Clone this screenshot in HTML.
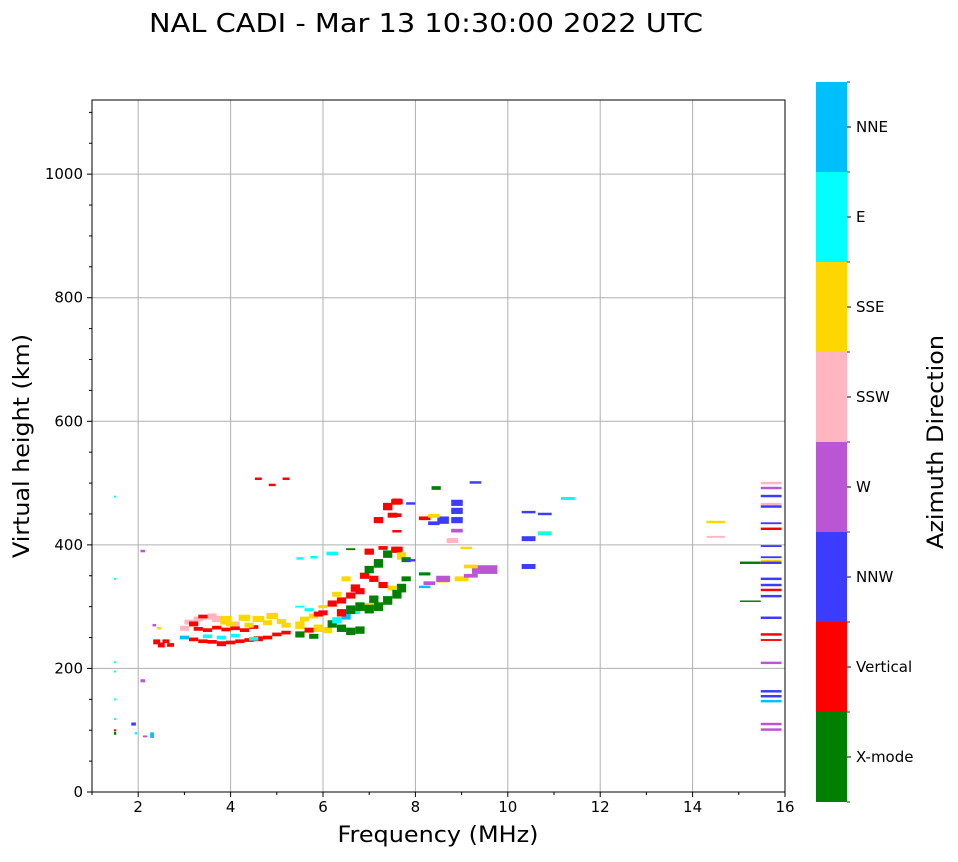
<!DOCTYPE html>
<html><head><meta charset="utf-8"><style>
body{margin:0;background:#fff;}
svg text{font-family:"DejaVu Sans","Liberation Sans",sans-serif;}
</style></head><body>
<svg id="chart" width="958" height="857" xmlns="http://www.w3.org/2000/svg">
<text x="426" y="32" font-size="26" text-anchor="middle" textLength="554" lengthAdjust="spacingAndGlyphs">NAL CADI - Mar 13 10:30:00 2022 UTC</text>
<g id="grid"></g>
<g id="marks"></g>
<rect x="92" y="100" width="693" height="692" fill="none" stroke="#000" stroke-width="1"/>
<g id="axes"></g>
<text x="438" y="842" font-size="22" text-anchor="middle" textLength="201" lengthAdjust="spacingAndGlyphs">Frequency (MHz)</text>
<text transform="translate(29,446) rotate(-90)" font-size="22" text-anchor="middle" textLength="224" lengthAdjust="spacingAndGlyphs">Virtual height (km)</text>
<g id="cbar"></g>
<text transform="translate(943,442) rotate(-90)" font-size="22" text-anchor="middle" textLength="214" lengthAdjust="spacingAndGlyphs">Azimuth Direction</text>
</svg>
<script>
const NS="http://www.w3.org/2000/svg";
const directions=["X-mode","Vertical","NNW","W","SSW","SSE","E","NNE"];
const dirColors=["#008000","#ff0000","#3c3cff","#ba55d3","#ffb6c1","#ffd700","#00ffff","#00bfff"];
const xTicks=[2,4,6,8,10,12,14,16];
const yTicks=[0,200,400,600,800,1000];
// echo data: frequency (MHz), virtual height (km), direction index, freq width (MHz), height thickness (km)
const echoFreq=[1.5,1.5,1.5,1.5,1.5,1.5,1.5,1.5,1.9,1.95,2.1,2.1,2.3,2.15,2.35,2.4,2.5,2.6,2.7,2.45,
3.0,3.2,3.4,3.6,3.8,4.0,4.2,4.4,4.6,4.8,5.0,5.2,3.3,3.5,3.7,3.9,4.1,4.3,4.5,3.1,3.3,3.5,3.7,3.9,4.1,3.6,3.9,4.3,4.6,4.9,5.2,4.0,4.4,4.8,5.1,3.5,3.8,4.1,4.5,3.2,3.4,3.0,
5.5,5.7,5.9,5.6,5.8,6.0,5.5,5.8,6.1,5.7,6.0,5.5,5.9,6.2,6.4,6.6,6.8,6.2,6.4,6.6,6.8,7.0,6.3,6.5,6.7,6.4,6.6,6.8,7.0,6.5,6.9,6.3,6.7,7.1,
7.0,7.2,7.4,7.6,7.1,7.3,7.5,7.2,7.4,7.6,7.7,7.8,7.0,7.2,7.4,7.6,7.5,7.3,7.7,7.8,7.9,
8.2,8.4,8.6,8.4,8.3,8.2,8.45,8.2,8.6,8.9,8.9,8.9,8.9,8.6,8.8,9.1,9.5,9.0,9.2,9.2,9.3,
10.45,10.45,10.45,10.8,10.8,10.8,11.3,14.5,14.5,15.25,15.25,
4.6,4.9,5.2,5.5,5.8,6.2,6.6,7.0,7.2,7.4,7.6,7.6,7.6,7.9,7.6,7.7,
15.7,15.7,15.7,15.7,15.7,15.7,15.7,15.7,15.7,15.7,15.7,15.7,15.7,15.7,15.7,15.7,15.7,15.7,15.7,15.7,15.7,15.7,15.7,15.7];
const echoHeight=[478,345,210,195,150,118,95,100,110,95,390,180,92,90,270,243,238,244,238,265,
250,247,244,243,240,242,244,246,248,250,255,258,264,262,266,263,265,262,267,275,280,283,280,276,272,285,278,282,280,285,270,272,270,274,276,252,250,253,248,272,284,265,
270,262,265,280,285,290,255,252,262,295,300,300,288,272,265,260,262,305,310,318,325,300,278,285,293,290,295,300,296,345,350,320,330,312,
360,370,385,392,345,335,330,300,310,320,330,345,388,440,462,470,448,395,380,376,375,
443,435,440,447,338,332,492,353,343,440,455,468,423,345,407,395,360,345,350,365,501,
410,365,453,420,418,450,475,437,413,371,309,
507,497,507,378,380,386,393,390,440,462,470,448,422,467,393,385,
500,492,479,466,462,435,426,398,380,374,371,345,335,327,317,282,255,246,209,163,155,147,110,101];
const echoDir=[6,6,6,6,6,6,0,1,2,6,3,3,7,3,3,1,1,1,1,5,
7,1,1,1,1,1,1,1,1,1,1,1,1,1,1,1,1,1,1,4,4,4,4,4,4,4,5,5,5,5,5,5,5,5,5,6,6,6,6,1,1,4,
5,1,5,5,5,1,0,0,5,6,5,6,1,0,0,0,0,1,1,1,1,5,6,7,6,1,0,0,0,5,1,5,1,0,
0,0,0,1,1,1,5,0,0,0,0,0,1,1,1,1,1,1,5,0,2,
1,2,2,5,3,7,0,0,5,2,2,2,3,3,4,5,3,5,3,5,2,
2,2,2,5,6,2,6,5,4,0,0,
1,1,1,6,6,6,0,1,1,1,1,1,1,2,1,5,
4,3,2,4,2,2,1,2,2,5,2,2,2,1,2,2,1,1,3,2,2,7,3,3];
const echoWidth=[0.05,0.05,0.05,0.05,0.05,0.05,0.05,0.05,0.1,0.05,0.1,0.1,0.08,0.1,0.08,0.15,0.15,0.15,0.15,0.1,
0.2,0.2,0.2,0.2,0.2,0.2,0.2,0.2,0.2,0.2,0.2,0.2,0.2,0.2,0.2,0.2,0.2,0.2,0.2,0.2,0.2,0.2,0.2,0.2,0.2,0.2,0.25,0.25,0.25,0.25,0.2,0.2,0.2,0.2,0.2,0.2,0.2,0.2,0.2,0.2,0.2,0.2,
0.2,0.2,0.2,0.2,0.2,0.2,0.2,0.2,0.2,0.2,0.2,0.2,0.2,0.2,0.2,0.2,0.2,0.2,0.2,0.2,0.2,0.2,0.2,0.2,0.2,0.2,0.2,0.2,0.2,0.2,0.2,0.2,0.2,0.2,
0.2,0.2,0.2,0.2,0.2,0.2,0.2,0.2,0.2,0.2,0.2,0.2,0.2,0.2,0.2,0.2,0.2,0.2,0.2,0.2,0.2,
0.25,0.25,0.25,0.25,0.25,0.25,0.2,0.25,0.25,0.25,0.25,0.25,0.25,0.3,0.25,0.25,0.55,0.3,0.3,0.3,0.25,
0.3,0.3,0.3,0.3,0.3,0.3,0.3,0.4,0.4,0.45,0.45,
0.15,0.15,0.15,0.15,0.15,0.25,0.2,0.2,0.2,0.2,0.25,0.2,0.2,0.2,0.25,0.2,
0.45,0.45,0.45,0.45,0.45,0.45,0.45,0.45,0.45,0.45,0.45,0.45,0.45,0.45,0.45,0.45,0.45,0.45,0.45,0.45,0.45,0.45,0.45,0.45];
const echoThick=[3,3,3,3,3,3,5,3,5,4,4,5,9,3,4,8,8,6,6,4,
6,6,6,6,8,6,6,6,8,6,6,6,6,6,6,6,6,6,6,8,8,8,10,8,8,8,14,10,10,10,8,8,8,8,8,6,6,6,6,8,6,8,
12,8,12,8,8,8,10,8,10,5,5,3,8,12,12,12,12,10,10,10,10,12,10,12,10,12,14,14,14,8,10,8,12,12,
12,14,12,10,10,10,8,14,14,14,14,8,8,10,12,10,8,6,8,8,4,
6,6,12,6,6,4,6,5,8,10,10,10,6,10,8,4,14,8,6,6,4,
8,8,4,5,5,4,5,4,3,4,2,
4,4,4,4,4,6,3,8,8,10,8,6,4,4,8,6,
4,4,4,4,4,3,4,3,3,4,4,4,4,4,4,4,4,3,4,4,4,4,4,4];

const X0=92,X1=785,Y0=792,Y1=100;
const xScale=f=>X0+(f-1)*(X1-X0)/15;
const yScale=h=>Y0-h*(Y0-Y1)/1120;
function el(tag,attrs,parent){const e=document.createElementNS(NS,tag);for(const k in attrs)e.setAttribute(k,attrs[k]);parent.appendChild(e);return e;}
const grid=document.getElementById('grid'),axes=document.getElementById('axes'),marks=document.getElementById('marks'),cbar=document.getElementById('cbar');
xTicks.forEach(t=>{const x=xScale(t);
 const g=el('line',{x1:x,x2:x,y1:Y1,y2:Y0,stroke:'#b0b0b0','stroke-width':1},grid);
 
 
 el('line',{x1:x,x2:x,y1:Y0,y2:Y0+5,stroke:'#000'},axes);
 const tx=el('text',{x:x,y:Y0+20,'font-size':15,'text-anchor':'middle'},axes);tx.textContent=t;
 
 
});
for(let f=1;f<=16;f+=1){if(f%2===1){const x=xScale(f);el('line',{x1:x,x2:x,y1:Y0,y2:Y0+3,stroke:'#000'},axes);}}
yTicks.forEach(t=>{const y=yScale(t);
 if(t>0){const g=el('line',{x1:X0,x2:X1,y1:y,y2:y,stroke:'#b0b0b0','stroke-width':1},grid);
 
 }
 el('line',{x1:X0-5,x2:X0,y1:y,y2:y,stroke:'#000'},axes);
 const tx=el('text',{x:X0-9,y:y+5,'font-size':15,'text-anchor':'end'},axes);tx.textContent=t;
 
 
});
for(let h=50;h<1120;h+=50){if(h%200!==0){const y=yScale(h);el('line',{x1:X0-3,x2:X0,y1:y,y2:y,stroke:'#000'},axes);}}
for(let i=0;i<echoFreq.length;i++){
 const x=xScale(echoFreq[i]-echoWidth[i]/2),w=xScale(echoWidth[i])-xScale(0);
 const y=yScale(echoHeight[i]+echoThick[i]/2),h=yScale(0)-yScale(echoThick[i]);
 const r=el('rect',{x:x,y:y,width:w,height:Math.max(h,1.5),fill:dirColors[echoDir[i]]},marks);
 
 
}
const CB0=82,CB1=802,CBX=816,CBW=31,seg=(CB1-CB0)/directions.length;
directions.forEach((d,i)=>{
 const y=CB1-(i+1)*seg;
 const r=el('rect',{x:CBX,y:y,width:CBW,height:seg,fill:dirColors[i]},cbar);
 
 
 el('line',{x1:CBX+CBW,x2:CBX+CBW+4,y1:y+seg/2,y2:y+seg/2,stroke:'#000'},cbar);
 const t=el('text',{x:CBX+CBW+9,y:y+seg/2+5,'font-size':15},cbar);t.textContent=d;
 
 
});
for(let i=0;i<=directions.length;i++){const y=CB0+i*seg;el('line',{x1:CBX+CBW,x2:CBX+CBW+3,y1:y,y2:y,stroke:'#000','stroke-width':0.8},cbar);}
</script>
</body></html>
